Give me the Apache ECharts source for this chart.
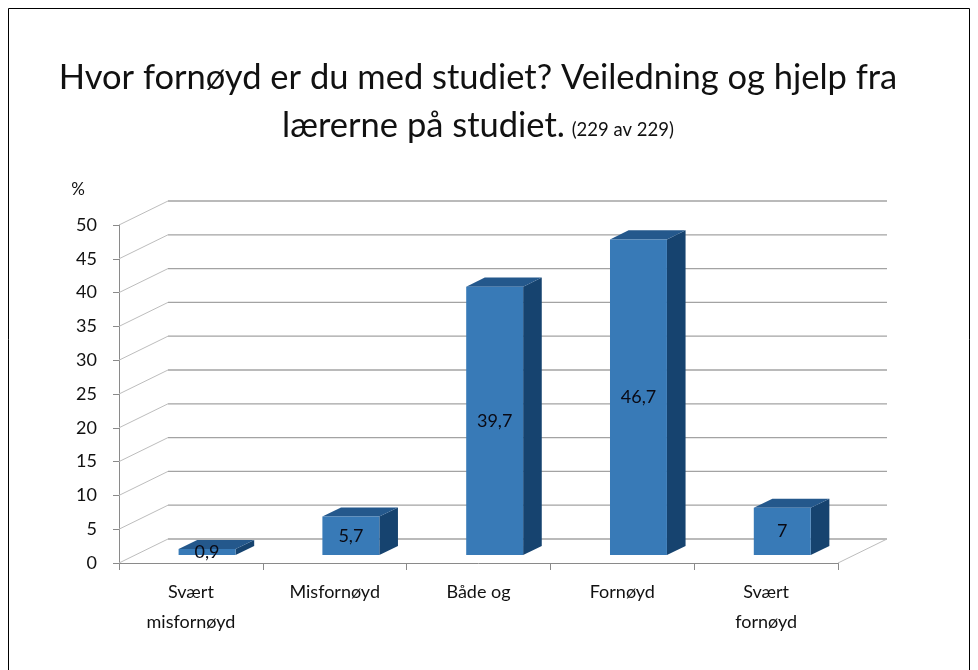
<!DOCTYPE html>
<html>
<head>
<meta charset="utf-8">
<script src="https://cdn.jsdelivr.net/npm/echarts@6/dist/echarts.min.js"></script>
<style>
html,body{margin:0;padding:0;background:#fff;}
#chart{width:978px;height:670px;}
</style>
</head>
<body>
<div id="chart"></div>
<script>
// ---- data ----
var categories = ['Svært\nmisfornøyd', 'Misfornøyd', 'Både og', 'Fornøyd', 'Svært\nfornøyd'];
var values = [0.9, 5.7, 39.7, 46.7, 7];
var valueLabels = ['0,9', '5,7', '39,7', '46,7', '7'];
var yTicks = [0, 5, 10, 15, 20, 25, 30, 35, 40, 45, 50];
var titleLine1 = 'Hvor fornøyd er du med studiet? Veiledning og hjelp fra';
var titleLine2 = 'lærerne på studiet.';
var titleNote = '(229 av 229)';

// ---- 3D styling constants ----
var DX = 49, DY = 24;      // depth offset of back wall
var F1 = 0.33, F2 = 0.71;  // bar front/back depth fractions
var BARW = 0.396;          // bar width as fraction of category band
var FONT = "Lato, sans-serif";

var chart = echarts.init(document.getElementById('chart'));

var barData = values.map(function (v, i) { return [i, v, i]; });
var gridData = yTicks.map(function (v) { return [0, v]; });

var option = {
  animation: false,
  backgroundColor: '#fff',
  grid: { left: 119, right: 140, top: 225, bottom: 107 },
  xAxis: {
    type: 'category',
    data: categories,
    axisLine: { show: true, lineStyle: { color: '#8a8a8a', width: 1 } },
    axisTick: { show: true, length: 7, lineStyle: { color: '#8a8a8a' } },
    axisLabel: { interval: 0, color: '#111', fontFamily: FONT, fontSize: 18, lineHeight: 30, margin: 14 }
  },
  yAxis: {
    type: 'value', min: 0, max: 50, interval: 5,
    splitLine: { show: false },
    axisLine: { show: true, lineStyle: { color: '#8a8a8a', width: 1 } },
    axisTick: { show: true, length: 6, lineStyle: { color: '#8a8a8a' } },
    axisLabel: { color: '#111', fontFamily: FONT, fontSize: 18, margin: 22 }
  },
  graphic: [
    { type: 'rect', shape: { x: 8.5, y: 8.5, width: 961, height: 720 }, style: { fill: 'none', stroke: '#000', lineWidth: 1 }, silent: true, z: -10 },
    { type: 'text', x: 478, y: 78, style: { text: titleLine1, fill: '#111', font: '34.5px ' + FONT, textAlign: 'center', textVerticalAlign: 'middle' } },
    { type: 'text', x: 478, y: 126, style: {
        text: '{a|' + titleLine2 + '}  {b|' + titleNote + '}',
        textAlign: 'center', textVerticalAlign: 'middle',
        rich: {
          a: { fontSize: 34.5, fontFamily: FONT, fill: '#111', color: '#111' },
          b: { fontSize: 18.5, fontFamily: FONT, fill: '#111', color: '#111', padding: [8, 0, 0, 0] }
        }
      } },
    { type: 'text', x: 78, y: 190, style: { text: '%', fill: '#111', font: '17px ' + FONT, textAlign: 'center', textVerticalAlign: 'middle' } }
  ],
  series: [
    {
      type: 'custom',
      z: 1,
      silent: true,
      data: gridData,
      renderItem: function (params, api) {
        var cs = params.coordSys;
        var p = api.coord([0, api.value(1)]);
        var x0 = cs.x, x1 = cs.x + cs.width, y = p[1];
        return {
          type: 'group',
          children: [
            { type: 'line', shape: { x1: x0, y1: y, x2: x0 + DX, y2: y - DY }, style: { stroke: '#bdbdbd', lineWidth: 1 } },
            { type: 'line', shape: { x1: x0 + DX, y1: y - DY, x2: x1 + DX, y2: y - DY }, style: { stroke: '#a3a3a3', lineWidth: 1.3 } }
          ]
        };
      }
    },
    {
      type: 'custom',
      z: 1,
      silent: true,
      data: [[categories.length - 1, 0]],
      renderItem: function (params, api) {
        var cs = params.coordSys;
        var p = api.coord([0, 0]);
        var x1 = cs.x + cs.width;
        return { type: 'line', shape: { x1: x1, y1: p[1], x2: x1 + DX, y2: p[1] - DY }, style: { stroke: '#bdbdbd', lineWidth: 1 } };
      }
    },
    {
      type: 'custom',
      z: 5,
      data: barData,
      renderItem: function (params, api) {
        var i = api.value(0), v = api.value(1);
        var c0 = api.coord([i, 0]), c1 = api.coord([i, v]);
        var bw = api.size([1, 0])[0] * BARW;
        var xl = c0[0] - bw / 2, xr = c0[0] + bw / 2;
        var yb = c0[1], yt = c1[1];
        var fx = DX * F1, fy = DY * F1, bx = DX * F2, by = DY * F2;
        return {
          type: 'group',
          children: [
            { type: 'polygon', shape: { points: [[xr + fx, yt - fy], [xr + bx, yt - by], [xr + bx, yb - by], [xr + fx, yb - fy]] }, style: { fill: '#16436f' } },
            { type: 'polygon', shape: { points: [[xl + fx, yt - fy], [xr + fx, yt - fy], [xr + bx, yt - by], [xl + bx, yt - by]] }, style: { fill: '#24588c' } },
            { type: 'rect', shape: { x: xl + fx, y: yt - fy, width: bw, height: yb - yt }, style: { fill: '#387ab7' } },
            { type: 'text', x: c0[0] + fx, y: (yt + yb) / 2 - fy, style: { text: valueLabels[api.value(2)], fill: '#0a0a14', font: '18px ' + FONT, textAlign: 'center', textVerticalAlign: 'middle' }, z2: 10 }
          ]
        };
      }
    }
  ]
};
chart.setOption(option);
</script>
</body>
</html>
